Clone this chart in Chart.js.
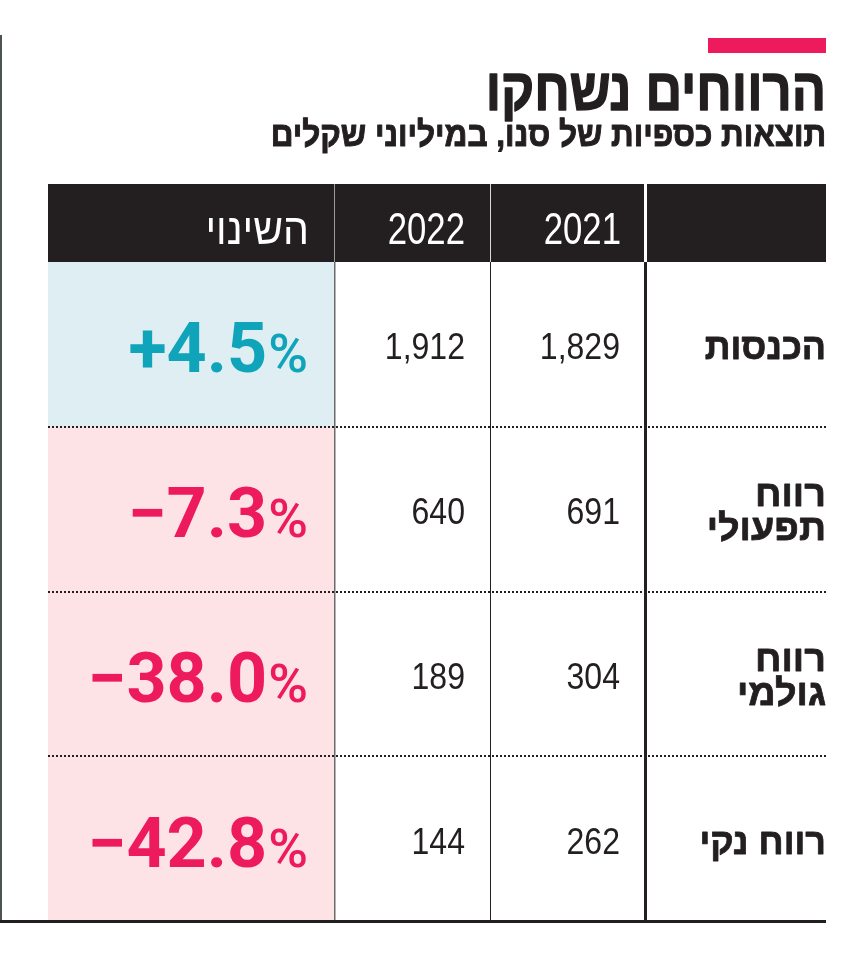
<!DOCTYPE html>
<html lang="he" dir="rtl">
<head>
<meta charset="utf-8">
<script src="https://cdn.jsdelivr.net/npm/chart.js@4"></script>
<style>
  html, body { margin: 0; padding: 0; background: #fff; }
  #wrap { width: 850px; height: 971px; position: relative; }
</style>
</head>
<body>
<div id="wrap"><canvas id="myChart" width="850" height="971"></canvas></div>
<script>
// data
const title = 'הרווחים נשחקו';
const subtitle = 'תוצאות כספיות של סנו, במיליוני שקלים';
const rowLabels = [['הכנסות'], ['רווח', 'תפעולי'], ['רווח', 'גולמי'], ['רווח נקי']];
const yearLabels = ['2021', '2022'];
const changeLabel = 'השינוי';
const values2021 = [1829, 691, 304, 262];
const values2022 = [1912, 640, 189, 144];
const changes = [4.5, -7.3, -38.0, -42.8];

// layout: column edges from the right (label, 2021, 2022, change)
const colEdges = [0, 180, 336, 492, 778];
const headerH = 78;

const PINK = '#ed1a5d';
const BLUE = '#0fa4ba';
const INK = '#231f20';
const hebFont = '"Liberation Sans", "DejaVu Sans", sans-serif';

// right-aligned text squeezed horizontally (condensed look)
function squeezed(ctx, text, x, y, sx, heavy) {
    ctx.save();
    ctx.translate(x, y);
    ctx.scale(sx, 1);
    ctx.textAlign = 'right';
    ctx.fillText(text, 0, 0);
    if (heavy) {
        ctx.lineWidth = heavy;
        ctx.strokeStyle = ctx.fillStyle;
        ctx.lineJoin = 'round';
        ctx.strokeText(text, 0, 0);
    }
    ctx.restore();
}

const tablePlugin = {
    id: 'tablePlugin',
    afterDatasetsDraw(chart) {
        const ctx = chart.ctx;
        const area = chart.chartArea;
        const xs = chart.scales.x;
        const ys = chart.scales.y;
        const colRight = i => xs.getPixelForValue(colEdges[i]);
        const colLeft = i => xs.getPixelForValue(colEdges[i + 1]);
        const rowMid = i => ys.getPixelForValue(i);
        const rowEdge = i => (ys.getPixelForValue(i) + ys.getPixelForValue(i + 1)) / 2;

        ctx.save();
        ctx.direction = 'rtl';
        ctx.textBaseline = 'alphabetic';

        // left frame line
        ctx.fillStyle = '#4d5355';
        ctx.fillRect(0, 35, 2, area.bottom - 35);

        // accent bar + titles
        ctx.fillStyle = PINK;
        ctx.fillRect(area.right - 118, 38, 118, 15);
        ctx.fillStyle = INK;
        ctx.font = 'bold 59px ' + hebFont;
        squeezed(ctx, title, area.right, 110, 0.86, 1.5);
        ctx.font = 'bold 35px ' + hebFont;
        squeezed(ctx, subtitle, area.right, 146, 0.9, 1);

        // header band
        const hTop = area.top - headerH;
        ctx.fillStyle = INK;
        ctx.fillRect(area.left, hTop, area.right - area.left, headerH);
        ctx.fillStyle = '#ffffff';
        ctx.fillRect(colLeft(0) - 2, hTop, 3, headerH);
        ctx.fillStyle = '#d8d8d8';
        ctx.fillRect(colLeft(1), hTop, 1, headerH);
        ctx.fillStyle = '#9a9a9a';
        ctx.fillRect(colLeft(2), hTop, 1, headerH);

        ctx.fillStyle = '#ffffff';
        const hBase = hTop + headerH / 2 + 21;
        ctx.font = '44px ' + hebFont;
        squeezed(ctx, yearLabels[0], colRight(1) - 25, hBase, 0.79);
        squeezed(ctx, yearLabels[1], colRight(2) - 25, hBase, 0.79);
        squeezed(ctx, changeLabel, colRight(3) - 25, hBase, 0.93);

        // vertical rules in body
        ctx.fillStyle = INK;
        ctx.fillRect(colLeft(0) - 2, area.top, 3, area.bottom - area.top);
        ctx.fillRect(colLeft(1), area.top, 1, area.bottom - area.top);
        ctx.fillStyle = '#6b6b6b';
        ctx.fillRect(colLeft(2), area.top, 1.5, area.bottom - area.top);

        // dotted row separators
        ctx.strokeStyle = INK;
        ctx.lineWidth = 2;
        ctx.setLineDash([2, 2]);
        for (let i = 0; i < rowLabels.length - 1; i++) {
            const y = Math.round(rowEdge(i));
            ctx.beginPath();
            ctx.moveTo(area.left, y);
            ctx.lineTo(area.right, y);
            ctx.stroke();
        }
        ctx.setLineDash([]);

        // bottom rule
        ctx.fillStyle = INK;
        ctx.fillRect(0, area.bottom - 1, area.right, 3);

        // cell texts
        rowLabels.forEach((lines, i) => {
            const mid = rowMid(i);
            ctx.fillStyle = INK;
            ctx.font = 'bold 37px ' + hebFont;
            if (lines.length === 1) {
                squeezed(ctx, lines[0], colRight(0), mid + 15, 0.97, 0.8);
            } else {
                squeezed(ctx, lines[0], colRight(0), mid - 3, 1.02, 0.8);
                squeezed(ctx, lines[1], colRight(0), mid + 31, 1.02, 0.8);
            }

            ctx.font = '36px ' + hebFont;
            squeezed(ctx, values2021[i].toLocaleString('en-US'), colRight(1) - 26, mid + 15, 0.89);
            squeezed(ctx, values2022[i].toLocaleString('en-US'), colRight(2) - 25, mid + 15, 0.89);

            // change with smaller percent sign
            const v = changes[i];
            ctx.direction = 'ltr';
            ctx.fillStyle = v >= 0 ? BLUE : PINK;
            const x0 = colRight(3) - 26;
            const base = mid + 28;
            ctx.font = '500 54px Roboto, sans-serif';
            ctx.textAlign = 'right';
            ctx.fillText('%', x0, base);
            const pw = ctx.measureText('%').width;
            ctx.font = 'bold 70px Roboto, sans-serif';
            const txt = (v >= 0 ? '+' : '\u2212') + Math.abs(v).toFixed(1);
            ctx.fillText(txt, x0 - pw - 1, base);
            ctx.direction = 'rtl';
        });

        ctx.restore();
    }
};

const ctx = document.getElementById('myChart').getContext('2d');
new Chart(ctx, {
    type: 'bar',
    data: {
        labels: rowLabels.map(l => l.join(' ')),
        datasets: [{
            label: changeLabel,
            data: changes.map(() => [colEdges[3], colEdges[4]]),
            backgroundColor: changes.map(v => v >= 0 ? '#dfeef3' : '#fde3e5'),
            borderWidth: 0,
            barPercentage: 1,
            categoryPercentage: 1
        }]
    },
    options: {
        indexAxis: 'y',
        responsive: false,
        animation: false,
        layout: { padding: { left: 48, right: 24, top: 262, bottom: 50 } },
        plugins: {
            legend: { display: false },
            tooltip: { enabled: false },
            title: { display: false }
        },
        scales: {
            x: { type: 'linear', min: colEdges[0], max: colEdges[4], reverse: true, display: false },
            y: { display: false }
        }
    },
    plugins: [tablePlugin]
});
</script>
</body>
</html>
